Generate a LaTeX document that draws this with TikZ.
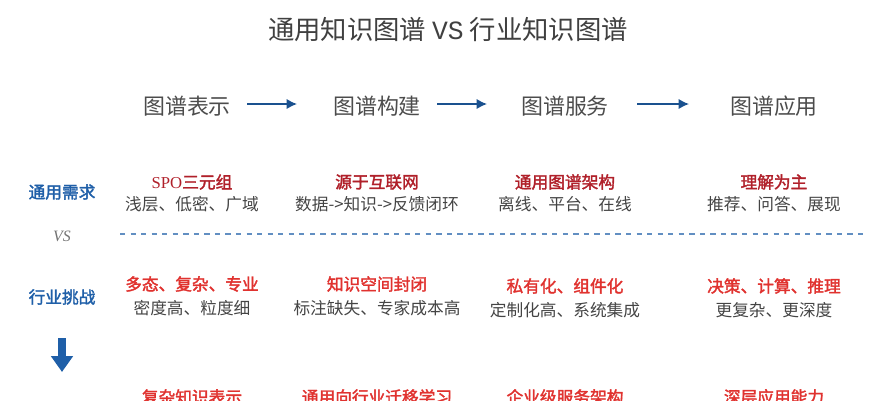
\documentclass[tikz,border=0pt]{standalone}
\usepackage{fontspec}
\setmainfont{Noto Sans CJK SC}
\newfontfamily\cjkbold[FakeBold=2]{Noto Sans CJK SC}
\newfontfamily\latinserif{Liberation Serif}
\newfontfamily\latinmono{Liberation Mono}
\usetikzlibrary{arrows.meta}
\definecolor{headblue}{HTML}{1F5FA8}
\definecolor{darkred}{HTML}{B0202A}
\definecolor{brightred}{HTML}{E0322F}
\definecolor{txtgray}{HTML}{444444}
\tikzset{
  titletext/.style={font=\fontsize{15}{17}\selectfont, text=black!75},
  stagetext/.style={font=\fontsize{12.5}{14}\selectfont, text=black!70},
  sidetext/.style={font=\cjkbold\fontsize{9.5}{11}\selectfont, text=headblue},
  keytext/.style={font=\cjkbold\fontsize{9.5}{11}\selectfont, text=#1},
  desctext/.style={font=\fontsize{9.5}{11}\selectfont, text=txtgray},
  flow/.style={-{Latex[length=6pt,width=6pt]}, line width=1.6pt, draw=headblue!85!black},
}
\begin{document}
\begin{tikzpicture}[x=0.02cm,y=-0.02cm]
                \useasboundingbox (0,0) rectangle (893,400);

                \node[titletext] (title) at (448,30) {通用知识图谱 {\latinmono VS} 行业知识图谱};

                \node[stagetext] (s1) at (187,106) {图谱表示};
                \node[stagetext] (s2) at (377,106) {图谱构建};
                \node[stagetext] (s3) at (565,106) {图谱服务};
                \node[stagetext] (s4) at (774,106) {图谱应用};
                \draw[flow] (s1.east)+(10,-2) -- ++(60,-2);
                \draw[flow] (s2.east)+(10,-2) -- ++(60,-2);
                \draw[flow] (s3.east)+(22,-2) -- ++(74,-2);

                \node[sidetext] (general) at (62,192) {通用需求};
                \node[font=\latinserif\itshape\fontsize{9}{10}\selectfont, text=black!55] (vs) at (62,236) {VS};
                \node[sidetext] (industry) at (62,297) {行业挑战};
                \coordinate (dtop) at (62,338);
                \coordinate (dbot) at (62,372);
                \draw[-{Triangle[length=9pt,width=12pt]}, line width=4pt, draw=headblue] (dtop) -- (dbot);

                \coordinate (dl) at (120,234);
                \coordinate (dr) at (868,234);
                \draw[dashed, draw=headblue!70, line width=0.6pt] (dl) -- (dr);

                % row 1
                \node[keytext=darkred] (g1) at (192,182) {{\latinserif SPO}三元组};
                \node[desctext] (gd1) at (192,204) {浅层、低密、广域};
                \node[keytext=darkred] (g2) at (377,182) {源于互联网};
                \node[desctext] (gd2) at (377,204) {数据->知识->反馈闭环};
                \node[keytext=darkred] (g3) at (565,182) {通用图谱架构};
                \node[desctext] (gd3) at (565,204) {离线、平台、在线};
                \node[keytext=darkred] (g4) at (774,182) {理解为主};
                \node[desctext] (gd4) at (774,204) {推荐、问答、展现};

                % row 2
                \node[keytext=brightred] (i1) at (192,284) {多态、复杂、专业};
                \node[desctext] (id1) at (192,308) {密度高、粒度细};
                \node[keytext=brightred] (i2) at (377,284) {知识空间封闭};
                \node[desctext] (id2) at (377,308) {标注缺失、专家成本高};
                \node[keytext=brightred] (i3) at (565,286) {私有化、组件化};
                \node[desctext] (id3) at (565,310) {定制化高、系统集成};
                \node[keytext=brightred] (i4) at (774,286) {决策、计算、推理};
                \node[desctext] (id4) at (774,310) {更复杂、更深度};

                % row 3
                \node[keytext=brightred] (r1) at (192,397) {复杂知识表示};
                \node[keytext=brightred] (r2) at (377,397) {通用向行业迁移学习};
                \node[keytext=brightred] (r3) at (565,397) {企业级服务架构};
                \node[keytext=brightred] (r4) at (774,397) {深层应用能力};
            \end{tikzpicture}
\end{document}
